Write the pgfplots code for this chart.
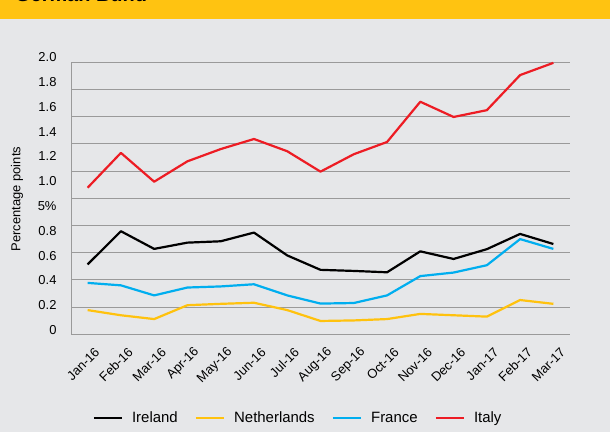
\documentclass[border=0pt]{standalone}
\usepackage{pgfplots}
\pgfplotsset{compat=1.18}
\usepackage{pgfplotstable}
\usepackage{fontspec}
\setmainfont{Liberation Sans}
\definecolor{bg}{HTML}{E6E7E9}
\definecolor{bar}{HTML}{FFC311}
\definecolor{gridgray}{HTML}{9A9A9A}
\definecolor{cIre}{HTML}{000000}
\definecolor{cNet}{HTML}{FFC20E}
\definecolor{cFra}{HTML}{00AEEF}
\definecolor{cIta}{HTML}{ED1C24}
\pgfplotstableread{
x ire net fra ita
0 2.57 0.89 1.89 5.39
1 3.79 0.70 1.80 6.67
2 3.14 0.56 1.43 5.61
3 3.37 1.07 1.72 6.36
4 3.42 1.12 1.76 6.81
5 3.74 1.16 1.84 7.18
6 2.90 0.89 1.43 6.73
7 2.37 0.49 1.13 5.98
8 2.33 0.51 1.15 6.62
9 2.28 0.56 1.43 7.07
10 3.05 0.75 2.14 8.55
11 2.77 0.70 2.27 7.99
12 3.13 0.65 2.54 8.24
13 3.69 1.26 3.50 9.53
14 3.32 1.12 3.14 9.98
}\data
\begin{document}
\begin{tikzpicture}[x=1bp,y=1bp]
\fill[bg] (0,0) rectangle (610,432);
\fill[bar] (0,412.5) rectangle (610,432);
\node[anchor=base west, inner sep=0pt, font=\bfseries\fontsize{20}{24}\selectfont] at (15,430.5) {German Bund};
\begin{axis}[
  at={(71bp,97.7bp)}, anchor=south west,
  scale only axis, width=499bp, height=278.8bp,
  xmin=-0.5, xmax=14.5, ymin=0, ymax=10.25,
  axis line style={draw=none},
  clip=false,
  xtick={0,...,14},
  xticklabels={Jan-16,Feb-16,Mar-16,Apr-16,May-16,Jun-16,Jul-16,Aug-16,Sep-16,Oct-16,Nov-16,Dec-16,Jan-17,Feb-17,Mar-17},
  xticklabel style={rotate=45, anchor=east, xshift=-1bp, yshift=-18bp, font=\fontsize{13}{15}\selectfont},
  ytick={0,...,10}, yticklabels={},
  ymajorgrids, grid style={color=gridgray, line width=0.9bp},
  major tick length=0,
  extra y ticks={0.158,1.069,1.981,2.892,3.804,4.715,5.626,6.538,7.449,8.361,9.272,10.183},
  extra y tick labels={0,0.2,0.4,0.6,0.8,5\%,1.0,1.2,1.4,1.6,1.8,2.0},
  extra y tick style={grid=none, major tick length=0, yticklabel style={anchor=east, xshift=-11bp, font=\fontsize{13}{15}\selectfont}},
  ylabel={Percentage points},
  ylabel style={at={(axis description cs:-0.108,0.485)}, anchor=center, font=\fontsize{13}{15}\selectfont},
  legend columns=4,
  legend style={draw=none, fill=none, at={(0.455,-0.300)}, anchor=center,
    font=\fontsize{15}{18}\selectfont,
    /tikz/every odd column/.append style={column sep=7bp},
    /tikz/every even column/.append style={column sep=15bp}},
  legend image code/.code={\draw[#1, line width=2.4bp] (0bp,0bp) -- (28bp,0bp);},
  every axis plot/.append style={line width=2.2bp, line join=round},
]
\addplot[cIre] table[x=x, y=ire] {\data};
\addlegendentry{Ireland}
\addplot[cNet] table[x=x, y=net] {\data};
\addlegendentry{Netherlands}
\addplot[cFra] table[x=x, y=fra] {\data};
\addlegendentry{France}
\addplot[cIta] table[x=x, y=ita] {\data};
\addlegendentry{Italy}
\draw[gridgray, line width=0.9bp] (axis cs:-0.5,0) -- (axis cs:-0.5,10);
\end{axis}
\pgfresetboundingbox
\useasboundingbox (0,0) rectangle (610,432);
\end{tikzpicture}
\end{document}
